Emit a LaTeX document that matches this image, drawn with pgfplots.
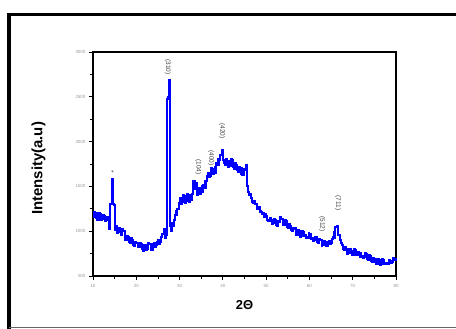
\documentclass[border=0pt]{standalone}
\usepackage{pgfplots}
\pgfplotsset{compat=1.18}
\usepackage{fontspec}
\setmainfont{Liberation Sans}
\begin{document}
\begin{tikzpicture}
\useasboundingbox (0,0) rectangle (456bp,329bp);
\draw[line width=3.5bp] (9bp,0bp) -- (9bp,314.5bp) -- (470bp,314.5bp);
\draw[line width=1.2bp, black!60] (9bp,1.8bp) -- (470bp,1.8bp);
\begin{axis}[
  scale only axis, width=303bp, height=224bp,
  at={(93bp,53bp)}, anchor=south west,
  xmin=10, xmax=80, ymin=500, ymax=3000,
  xtick={10,20,...,80}, ytick={500,1000,...,3000},
  xticklabels={10,20,30,40,50,60,70,80},
  yticklabels={500,1000,1500,2000,2500,3000},
  minor x tick num=1, minor y tick num=1,
  xtick pos=bottom, ytick pos=left,
  tick align=outside,
  major tick length=4bp, minor tick length=3bp,
  tick style={black, line width=0.8pt},
  axis line style={line width=1.1pt},
  ticklabel style={font=\fontsize{4.5}{5}\selectfont, text=black!40},
  xticklabel style={yshift=-1bp},
  xlabel={\textbf{2Θ}},
  ylabel={\textbf{Intensity(a.u)}},
  xlabel style={font=\fontsize{13}{14}\selectfont, at={(axis description cs:0.5,-0.13)}, anchor=center},
  ylabel style={font=\fontsize{15}{16}\selectfont, at={(axis description cs:-0.18,0.48)}, anchor=center},
  clip=false,
]
\addplot[const plot, blue, line width=2.1bp] coordinates {
(10,1160) (10.3,1210) (10.5,1200) (10.8,1150) (11,1130) (11.3,1200) (11.5,1190) (11.8,1130) (12,1140) (12.3,1180) (12.5,1170) (12.8,1110) (13,1120) (13.3,1160) (13.5,1150)
(13.8,1030) (14.0,1300) (14.3,1580) (14.5,1300) (14.8,1290) (15.0,1010) (15.3,1060) (15.5,980) (15.8,1010) (16,1040)
(16.3,990) (16.5,960) (16.8,1020) (17,1000) (17.3,940) (17.5,900) (17.8,950) (18,930) (18.3,880) (18.5,870) (18.8,920) (19,900) (19.3,850) (19.5,840) (19.8,880) (20,870) (20.3,830) (20.5,820)
(20.8,870) (21,860) (21.3,800) (21.5,780) (21.8,850) (22,840) (22.3,790) (22.5,800) (22.8,870) (23,860) (23.3,800) (23.5,790) (23.8,860) (24,870) (24.3,820) (24.5,850) (24.8,880) (25,900)
(25.3,860) (25.5,880) (25.8,940) (26,970) (26.3,1020) (26.6,930) (26.9,960) (27.0,2480) (27.3,2500) (27.5,2690)
(27.7,1060) (28.0,1000) (28.3,1090) (28.6,1060) (28.8,1130) (29,1180) (29.3,1220) (29.5,1250) (29.8,1310) (30,1370) (30.3,1300) (30.5,1330)
(30.8,1400) (31,1390) (31.3,1320) (31.5,1340) (31.8,1410) (32,1400) (32.3,1330) (32.5,1350) (32.8,1420) (33,1430) (33.2,1560) (33.5,1470) (33.8,1540)
(34,1410) (34.3,1470) (34.5,1480) (34.8,1420) (35,1440) (35.3,1500) (35.5,1510) (35.8,1480) (36,1560) (36.3,1620) (36.5,1650) (36.8,1600) (37,1620) (37.3,1700) (37.5,1690)
(37.8,1640) (38,1650) (38.3,1720) (38.5,1760) (38.8,1740) (39,1800) (39.4,1850) (39.7,1910) (40,1790) (40.3,1760) (40.5,1740) (40.8,1800) (41,1780)
(41.3,1720) (41.5,1730) (41.8,1800) (42,1790) (42.3,1720) (42.5,1700) (42.8,1760) (43,1740) (43.3,1680) (43.5,1660) (43.8,1720) (44,1700) (44.3,1640) (44.5,1630) (44.8,1690) (45,1680)
(45.3,1740) (45.6,1500) (45.8,1440) (46,1400) (46.3,1410) (46.5,1370) (46.8,1330) (47,1320) (47.3,1340) (47.5,1300) (47.8,1260) (48,1250) (48.3,1270) (48.5,1220)
(48.8,1210) (49,1190) (49.3,1200) (49.5,1160) (49.8,1190) (50,1170) (50.3,1130) (50.5,1110) (50.8,1150) (51,1130) (51.3,1080) (51.5,1090) (51.8,1140) (52,1120) (52.3,1070) (52.5,1060)
(52.8,1110) (53,1100) (53.3,1160) (53.5,1140) (53.8,1080) (54,1070) (54.3,1120) (54.5,1110) (54.8,1050) (55,1040) (55.3,1080) (55.5,1060) (55.8,1010) (56,1000) (56.3,1040) (56.5,1030)
(56.8,970) (57,960) (57.3,1010) (57.5,1000) (57.8,940) (58,950) (58.3,1000) (58.5,990) (58.8,950) (59,960) (59.3,920) (59.5,930) (59.8,980) (60,970) (60.3,910) (60.5,920) (60.8,890) (61,900)
(61.3,940) (61.5,930) (61.8,880) (62,870) (62.3,910) (62.5,900) (62.8,840) (63,850) (63.3,890) (63.5,880) (63.8,830) (64,840) (64.3,880) (64.5,890) (64.8,860) (65,870) (65.3,910) (65.5,930)
(65.8,990) (66,1050) (66.3,1060) (66.7,960) (67,900) (67.3,870) (67.5,850) (67.8,800) (68,790) (68.3,820) (68.5,800) (68.8,750) (69,760) (69.3,800) (69.5,780)
(69.8,730) (70,740) (70.3,800) (70.5,790) (70.8,740) (71,730) (71.3,770) (71.5,760) (71.8,710) (72,720) (72.3,700) (72.5,710) (72.8,760) (73,750) (73.3,690) (73.5,680) (73.8,730) (74,720)
(74.3,670) (74.5,660) (74.8,700) (75,690) (75.3,630) (75.5,640) (75.8,690) (76,680) (76.3,620) (76.5,630) (76.8,690) (77,680) (77.3,640) (77.5,650) (77.8,630) (78,640) (78.3,680) (78.5,670)
(78.8,650) (79,660) (79.3,700) (79.5,690) (79.8,680) (80,700)
};
\begin{scope}[every node/.style={font=\fontsize{6.5}{6.5}\selectfont, text=black!75, rotate=-90, inner sep=0pt}]
\node at (axis cs:14.3,1661) {*};
\node at (axis cs:27.3,2833) {(310)};
\node at (axis cs:34.3,1717) {(104)};
\node at (axis cs:37.3,1817) {(400)};
\node at (axis cs:39.8,2118) {(420)};
\node at (axis cs:62.9,1080) {(512)};
\node at (axis cs:66.6,1315) {(711)};
\end{scope}
\end{axis}
\end{tikzpicture}
\end{document}
